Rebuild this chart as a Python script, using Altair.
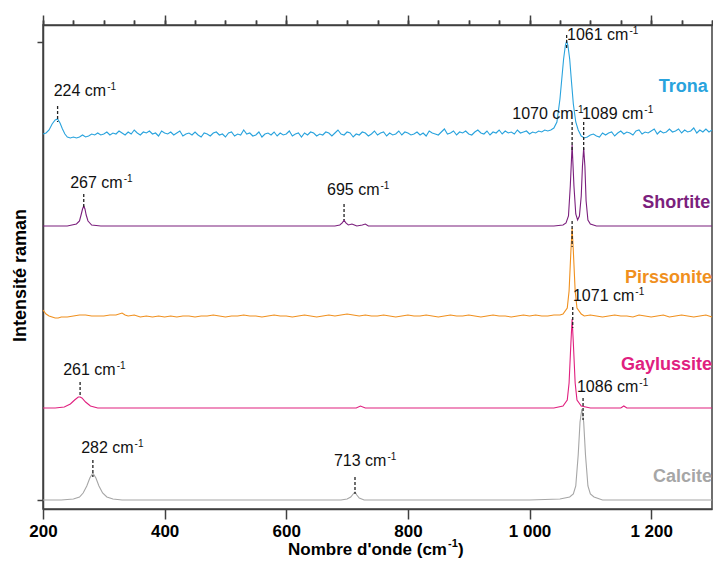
import altair as alt
import pandas as pd

FONT = "Liberation Sans"
AX = "#404040"

# ---------------- spectra (relative intensities) -------------
trona_x = ([200, 205, 210, 215, 220, 224, 228, 232, 236, 240, 245, 250]
           + list(range(255, 1031, 5))
           + [1035, 1040, 1045, 1050, 1053, 1056, 1059, 1061, 1063, 1066, 1069, 1072, 1076, 1080, 1085, 1090]
           + list(range(1095, 1301, 5)))
trona_y = ([0, 1, 4, 10, 14, 15, 11, 5, 0, -3, -4, -3]
           + [-4, -3, -1, -3, -2, 0, -1, 1, -1, 0,
              2, -1, 1, 0, 3, 1, -1, 2, 0, 4,
              1, -1, 2, 1, 3, 0, 1, -2, 3, 1,
              0, 2, -1, 1, 3, -2, 0, 1, -1, 2,
              -1, -3, 1, 0, -2, 1, 2, -1, 0, -3,
              1, 2, -2, 0, -1, 4, 0, 1, -2, -1,
              2, -3, 0, 1, -1, 2, -2, 1, -1, 0,
              3, -2, 0, 1, -3, 1, -1, 2, 1, -2,
              0, -1, 2, 1, -2, 1, 4, 0, -1, 2,
              1, -3, 0, -1, 2, 1, -2, 0, 3, -1,
              1, 2, -2, 1, -1, 0, 3, -1, 2, 1,
              -1, 0, 2, -1, 1, -2, 3, 1, 0, -1,
              2, 5, 0, 1, 3, -1, 2, 1, 3, 0,
              -1, 2, 4, 1, 0, 3, -1, 2, 1, 4,
              0, 3, 1, 2, 0, 4, 1, 2, 3, 0,
              2, 1, 3, 2, 4, 3]
           + [4, 6, 12, 35, 55, 75, 89, 93, 89, 75, 52, 30, 12, 4, -2, -4]
           + [-3, -1, 0, -2, -3, 1, -1, 1, 2, -2,
              1, 3, 0, 2, 1, -1, 3, 4, 0, 2,
              1, 3, 5, 0, 3, 1, 2, 5, 2, 3,
              5, 1, 4, 2, 3, 6, 1, 4, 2, 5,
              2, 4])

shortite_x = [200, 240, 255, 260, 263, 265, 267, 269, 271, 274, 280, 295, 350, 400, 500, 600, 680, 688,
              692, 695, 698, 702, 708, 712, 716, 725, 730, 735, 800, 900, 1000, 1040, 1055, 1060, 1064,
              1067, 1070, 1073, 1076, 1079, 1082, 1085, 1087, 1089, 1091, 1093, 1096, 1100, 1110, 1150,
              1200, 1300]
shortite_y = [0, 0, 2, 5, 12, 17, 20, 17, 11, 5, 1, 0, 0, 0, 0, 0, 0, 1,
              3, 6, 3, 1, 2, 1, 0, 1, 2, 0, 0, 0, 0, 0, 1, 3, 10,
              40, 81, 40, 12, 6, 10, 30, 60, 78, 60, 25, 6, 2, 0, 0,
              0, 0]

pirssonite_x = ([200, 205, 210, 215, 220, 225, 230, 240, 250, 260, 270, 280, 290, 300, 310, 320, 330, 335]
                + list(range(340, 1041, 10))
                + [1050, 1055, 1062, 1065, 1068, 1070, 1072, 1075, 1078, 1085]
                + list(range(1090, 1301, 10)))
pirssonite_y = ([6, 2, 0, -1, -2, -2, -1, -1, 0, 1, 1, 0, 0, 0, 1, 1, 3, 1]
                + [0, 1, -1, 0, -1, 0, -1, 0, -1, 0,
                   0, -1, 0, 0, 1, 0, -1, 0, 0, 1,
                   0, 0, -1, 0, 1, 0, 0, -1, 0, 1,
                   0, -1, 0, 1, 0, 1, 2, 1, 0, 1,
                   0, 0, 1, 0, -1, 0, 1, 0, 0, 1,
                   0, -1, 0, 1, 0, 0, 1, 0, -1, 0,
                   1, 0, 0, -1, 0, 1, 0, 1, 0, 0,
                   1]
                + [1, 2, 8, 25, 65, 88, 65, 25, 8, 2]
                + [0, 1, 0, -1, 0, 1, 0, 0, -1, 1, 0, -1, 0, 1, -1, 0, 1, 0, -1, 0, 1, -1])

gaylussite_x = [200, 220, 235, 245, 252, 258, 261, 264, 270, 278, 290, 320, 400, 500, 600, 700, 715, 722,
                730, 800, 900, 1000, 1040, 1055, 1062, 1065, 1068, 1070, 1072, 1075, 1078, 1085, 1100,
                1150, 1155, 1160, 1200, 1300]
gaylussite_y = [0, 0, 1, 4, 8, 11, 11, 10, 6, 2, 0, 0, 0, 0, 0, 0, 0, 2,
                0, 0, 0, 0, 0, 2, 8, 25, 65, 89, 65, 25, 8, 2, 0,
                0, 2, 0, 0, 0]

calcite_x = [200, 230, 250, 260, 266, 272, 277, 282, 287, 292, 298, 305, 315, 330, 400, 500, 600, 690,
             700, 706, 710, 713, 716, 720, 728, 800, 900, 1000, 1050, 1066, 1072, 1076, 1080, 1083, 1086,
             1089, 1092, 1096, 1100, 1106, 1120, 1200, 1300]
calcite_y = [0, 0, 1, 3, 7, 14, 22, 27, 22, 14, 7, 3, 1, 0, 0, 0, 0, 0,
             1, 3, 6, 8, 5, 2, 0, 0, 0, 0, 1, 3, 6, 14, 45, 78, 91,
             78, 45, 14, 6, 3, 0, 0, 0]

minerals = ["Trona", "Shortite", "Pirssonite", "Gaylussite", "Calcite"]
colors = ["#29a3dd", "#7b1f7d", "#f0901e", "#e0207f", "#a6a6a6"]
offsets = [375, 283, 193, 101, 9]
series_x = [trona_x, shortite_x, pirssonite_x, gaylussite_x, calcite_x]
series_y = [trona_y, shortite_y, pirssonite_y, gaylussite_y, calcite_y]

# series name labels (data coords, right-aligned)
name_x = [1293, 1297, 1300, 1300, 1300]
name_y = [417, 301, 226, 139, 27]

# peak annotations
peak_text = ["224 cm", "267 cm", "695 cm", "1061 cm", "1070 cm", "1089 cm", "1071 cm",
             "261 cm", "282 cm", "713 cm", "1086 cm"]
peak_lx = [303.9, 331.0, 753.3, 1162.5, 1072.5, 1187.1, 1172.3, 319.5, 349.0, 764.7, 1178.9]
peak_ly = [413, 321, 314, 469, 390, 390, 208, 134, 56, 43, 117]

dash_x = [224, 267, 695, 1061, 1070, 1089, 1070, 1071, 261, 282, 713, 1088]
dash_top = [403, 315, 305, 474, 387, 387, 288, 202, 127, 49, 32, 111]
dash_bot = [387, 302, 289, 459, 359, 359, 262, 181, 112, 32, 15, 89]

major_ticks = [200, 400, 600, 800, 1000, 1200]
minor_ticks = list(range(200, 1301, 50))
y_ticks = [9, 467]

# ---------------- tables ----------------
rows = []
for m, off, xs, ys in zip(minerals, offsets, series_x, series_y):
    for xv, yv in zip(xs, ys):
        rows.append({"x": xv, "y": off + yv, "mineral": m})
spec = pd.DataFrame(rows)

names_df = pd.DataFrame({"x": name_x, "y": name_y, "mineral": minerals})
peaks_df = pd.DataFrame({"x": peak_lx, "y": peak_ly, "t": peak_text})
dash_df = pd.DataFrame({"x": dash_x, "y": dash_top, "y2": dash_bot})
dummy = pd.DataFrame({"x": [200]})
one = pd.DataFrame({"a": [0]})

xscale = alt.Scale(domain=[200, 1300], nice=False, zero=False)
yscale = alt.Scale(domain=[0, 484], nice=False, zero=False)
cscale = alt.Scale(domain=minerals, range=colors)

tick_style = dict(tickColor=AX, tickWidth=1.5, grid=False, title=None)
common_axis = dict(domainColor=AX, domainWidth=1.5, **tick_style)

lines = alt.Chart(spec).mark_line(strokeWidth=1.1).encode(
    x=alt.X("x:Q", scale=xscale, axis=alt.Axis(
        values=major_ticks, tickSize=10, labelFont=FONT, labelFontSize=17, labelFontWeight="bold",
        labelColor="#000", labelPadding=4, labelFlush=False,
        labelExpr="replace(format(datum.value, ','), ',', ' ')", **common_axis)),
    y=alt.Y("y:Q", scale=yscale, axis=alt.Axis(
        values=y_ticks, tickSize=6, labels=False, title="Intensité raman", titleFont=FONT,
        titleFontSize=18, titleFontWeight="bold", titleColor="#000", titleAngle=270,
        titleX=-23, titleY=250, titleAlign="center", titleBaseline="middle",
        domainColor=AX, domainWidth=1.5, tickColor=AX, tickWidth=1.5, grid=False)),
    color=alt.Color("mineral:N", scale=cscale, legend=None),
    detail="mineral:N",
)

minor_bottom = alt.Chart(dummy).mark_point(opacity=0).encode(
    x=alt.X("x:Q", scale=xscale, axis=alt.Axis(values=minor_ticks, tickSize=5, labels=False,
                                               domain=False, **tick_style)))
major_top = alt.Chart(dummy).mark_point(opacity=0).encode(
    x=alt.X("x:Q", scale=xscale, axis=alt.Axis(orient="top", values=major_ticks, tickSize=10,
                                               labels=False, **common_axis)))
minor_top = alt.Chart(dummy).mark_point(opacity=0).encode(
    x=alt.X("x:Q", scale=xscale, axis=alt.Axis(orient="top", values=minor_ticks, tickSize=5,
                                               labels=False, domain=False, **tick_style)))

dashes = alt.Chart(dash_df).mark_rule(color="#222", strokeWidth=1.3, strokeDash=[3, 2]).encode(
    x=alt.X("x:Q", scale=xscale, axis=None),
    y=alt.Y("y:Q", scale=yscale, axis=None),
    y2="y2:Q",
)

peak_main = alt.Chart(peaks_df).mark_text(font=FONT, fontSize=16, align="right", baseline="alphabetic",
                                          color="#111").encode(
    x=alt.X("x:Q", scale=xscale, axis=None),
    y=alt.Y("y:Q", scale=yscale, axis=None),
    text="t:N",
)
peak_sup = alt.Chart(peaks_df).mark_text(font=FONT, fontSize=10, align="left", baseline="alphabetic",
                                         dx=1, dy=-6, color="#111", text="-1").encode(
    x=alt.X("x:Q", scale=xscale, axis=None),
    y=alt.Y("y:Q", scale=yscale, axis=None),
)

names = alt.Chart(names_df).mark_text(font=FONT, fontSize=18, fontWeight="bold", align="right",
                                      baseline="alphabetic").encode(
    x=alt.X("x:Q", scale=xscale, axis=None),
    y=alt.Y("y:Q", scale=yscale, axis=None),
    text="mineral:N",
    color=alt.Color("mineral:N", scale=cscale, legend=None),
)

xt_main = alt.Chart(one).mark_text(font=FONT, fontSize=17, fontWeight="bold", align="right",
                                   baseline="alphabetic", color="#000", text="Nombre d'onde (cm").encode(
    x=alt.value(404), y=alt.value(530))
xt_sup = alt.Chart(one).mark_text(font=FONT, fontSize=11, fontWeight="bold", align="left",
                                  baseline="alphabetic", color="#000", text="-1").encode(
    x=alt.value(405), y=alt.value(522))
xt_close = alt.Chart(one).mark_text(font=FONT, fontSize=17, fontWeight="bold", align="left",
                                    baseline="alphabetic", color="#000", text=")").encode(
    x=alt.value(415), y=alt.value(530))

chart = alt.layer(
    lines, minor_bottom, major_top, minor_top, dashes, peak_main, peak_sup, names,
    xt_main, xt_sup, xt_close,
).resolve_axis(x="independent", y="independent").properties(
    width=669, height=484,
    autosize=alt.AutoSizeParams(type="none"),
    padding={"left": 35, "top": 17, "right": 1, "bottom": 50},
    background="white",
).configure_view(stroke=AX, strokeWidth=1.5)

chart.save("out.html", embed_options={"renderer": "svg", "actions": False})
